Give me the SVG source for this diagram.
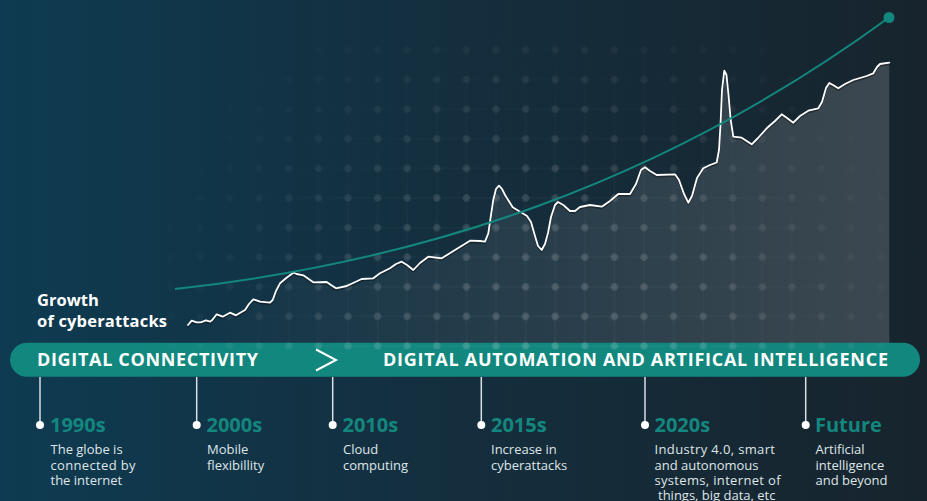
<svg xmlns="http://www.w3.org/2000/svg" width="927" height="501" viewBox="0 0 927 501">
  <defs>
    <linearGradient id="bg" x1="0" y1="0" x2="927" y2="0" gradientUnits="userSpaceOnUse">
      <stop offset="0" stop-color="#0e3b51"/>
      <stop offset="0.45" stop-color="#142f3f"/>
      <stop offset="1" stop-color="#17242d"/>
    </linearGradient>
    <linearGradient id="areaFill" x1="180" y1="0" x2="890" y2="0" gradientUnits="userSpaceOnUse">
      <stop offset="0" stop-color="#ffffff" stop-opacity="0"/>
      <stop offset="0.3" stop-color="#ffffff" stop-opacity="0.05"/>
      <stop offset="1" stop-color="#ffffff" stop-opacity="0.16"/>
    </linearGradient>
    <radialGradient id="gridFade" cx="540" cy="360" r="420" gradientUnits="userSpaceOnUse">
      <stop offset="0" stop-color="#fff" stop-opacity="1"/>
      <stop offset="0.45" stop-color="#fff" stop-opacity="0.7"/>
      <stop offset="0.8" stop-color="#fff" stop-opacity="0.15"/>
      <stop offset="1" stop-color="#fff" stop-opacity="0"/>
    </radialGradient>
    <mask id="gridMask" maskUnits="userSpaceOnUse" x="0" y="0" width="927" height="501">
      <rect x="0" y="0" width="927" height="501" fill="url(#gridFade)"/>
    </mask>
    <pattern id="gridPat" patternUnits="userSpaceOnUse" x="155.6" y="35.2" width="29.6" height="29.6">
      <line x1="0" y1="14.8" x2="29.6" y2="14.8" stroke="#ffffff" stroke-opacity="0.06" stroke-width="1"/>
      <line x1="14.8" y1="0" x2="14.8" y2="29.6" stroke="#ffffff" stroke-opacity="0.06" stroke-width="1"/>
      <circle cx="14.8" cy="14.8" r="3.6" fill="#ffffff" fill-opacity="0.17"/>
    </pattern>
    <style>
      .banner-text { font-family: "Open Sans", "DejaVu Sans", sans-serif; font-weight: 700; font-size: 18px; fill: #ffffff; }
      .title { font-family: "Open Sans", "DejaVu Sans", sans-serif; font-weight: 700; font-size: 16.5px; fill: #ffffff; }
      .year { font-family: "Open Sans", "DejaVu Sans", sans-serif; font-weight: 700; font-size: 20px; fill: #13877e; }
      .desc { font-family: "Open Sans", "DejaVu Sans", sans-serif; font-size: 13px; fill: #dfe5e8; }
      .tick { stroke: #d9dfe2; stroke-width: 1.5; }
      .dot { fill: #ffffff; }
    </style>
  </defs>

  <rect id="background" x="0" y="0" width="927" height="501" fill="url(#bg)"/>

  <g id="chart">
    <polygon fill="url(#areaFill)" points="188,325 191.7,320.7 196.7,322.3 200.7,322.3 206,320.3 210,321.7 212.3,320 216.7,314.3 222.7,316.7 230,312.7 236,315.3 245,310 249,304 253.3,299.3 260,301.7 270,302.7 272.7,300 276,291 280,283.3 286,278.3 293.3,272.7 296.7,274 303.3,275.3 313.3,282.3 326.7,282 331,285 336,288.3 346.7,286 361.7,279 373.3,278.3 380,273.3 390,268.3 396,264 401.7,261.7 407,265 413.3,270 420,263 428.3,256.7 441.7,258.3 455,250 470,240.7 480,241 485,241.7 488.3,233.3 491,215 493.3,200 496,189 499,185.7 502,189 505,195 512.7,207.3 520,211.7 527,216 531,222 535,236 538,246 541.7,250 545,244 548,233 551,217 555,205 558,202 563.3,205 570,211 575,211 580,207 590,205 601.7,206.7 610,201 618.3,194 630,194 636,184 641,170 645,167.3 650,171 656.7,175 675,174.3 679,180 684,194 688.3,202.7 692,196 697,178 703.3,168.3 710,165 716.7,162.5 719,150 720.5,125 722,90 724.3,70.7 726.5,75 728.5,95 730.7,120 733.3,136.7 741.7,137.7 751.7,144.3 758,138 766.7,128.3 775,121 781.7,114.3 787,118 793.3,122.7 800,116 808.3,110.7 818.3,108.3 822,102 826,88 829.3,83 833,85 838.3,88.3 845,84 853.3,80 866.7,76 873.3,73.3 877,67 880,64 889.3,62.7 889.3,346 188,346"/>
  </g>

  <g id="banner">
    <rect x="10" y="342.7" width="910" height="34" rx="17" ry="17" fill="#11877e"/>
    <text class="banner-text" x="37" y="366" textLength="221" lengthAdjust="spacing">DIGITAL CONNECTIVITY</text>
    <polyline points="316,349.5 336,360 316,370.5" fill="none" stroke="#ffffff" stroke-width="2" stroke-linejoin="miter"/>
    <text class="banner-text" x="383" y="366" textLength="505" lengthAdjust="spacing">DIGITAL AUTOMATION AND ARTIFICAL INTELLIGENCE</text>
  </g>

  <rect id="grid" x="126" y="36" width="775" height="313.5" fill="url(#gridPat)" mask="url(#gridMask)"/>

  <g id="growth-line">
    <polyline fill="none" stroke="#000000" stroke-opacity="0.35" stroke-width="2" stroke-linejoin="round" stroke-linecap="round" transform="translate(0,1.5)" points="188,325 191.7,320.7 196.7,322.3 200.7,322.3 206,320.3 210,321.7 212.3,320 216.7,314.3 222.7,316.7 230,312.7 236,315.3 245,310 249,304 253.3,299.3 260,301.7 270,302.7 272.7,300 276,291 280,283.3 286,278.3 293.3,272.7 296.7,274 303.3,275.3 313.3,282.3 326.7,282 331,285 336,288.3 346.7,286 361.7,279 373.3,278.3 380,273.3 390,268.3 396,264 401.7,261.7 407,265 413.3,270 420,263 428.3,256.7 441.7,258.3 455,250 470,240.7 480,241 485,241.7 488.3,233.3 491,215 493.3,200 496,189 499,185.7 502,189 505,195 512.7,207.3 520,211.7 527,216 531,222 535,236 538,246 541.7,250 545,244 548,233 551,217 555,205 558,202 563.3,205 570,211 575,211 580,207 590,205 601.7,206.7 610,201 618.3,194 630,194 636,184 641,170 645,167.3 650,171 656.7,175 675,174.3 679,180 684,194 688.3,202.7 692,196 697,178 703.3,168.3 710,165 716.7,162.5 719,150 720.5,125 722,90 724.3,70.7 726.5,75 728.5,95 730.7,120 733.3,136.7 741.7,137.7 751.7,144.3 758,138 766.7,128.3 775,121 781.7,114.3 787,118 793.3,122.7 800,116 808.3,110.7 818.3,108.3 822,102 826,88 829.3,83 833,85 838.3,88.3 845,84 853.3,80 866.7,76 873.3,73.3 877,67 880,64 889.3,62.7"/>
    <polyline fill="none" stroke="#ffffff" stroke-width="1.8" stroke-linejoin="round" stroke-linecap="round" points="188,325 191.7,320.7 196.7,322.3 200.7,322.3 206,320.3 210,321.7 212.3,320 216.7,314.3 222.7,316.7 230,312.7 236,315.3 245,310 249,304 253.3,299.3 260,301.7 270,302.7 272.7,300 276,291 280,283.3 286,278.3 293.3,272.7 296.7,274 303.3,275.3 313.3,282.3 326.7,282 331,285 336,288.3 346.7,286 361.7,279 373.3,278.3 380,273.3 390,268.3 396,264 401.7,261.7 407,265 413.3,270 420,263 428.3,256.7 441.7,258.3 455,250 470,240.7 480,241 485,241.7 488.3,233.3 491,215 493.3,200 496,189 499,185.7 502,189 505,195 512.7,207.3 520,211.7 527,216 531,222 535,236 538,246 541.7,250 545,244 548,233 551,217 555,205 558,202 563.3,205 570,211 575,211 580,207 590,205 601.7,206.7 610,201 618.3,194 630,194 636,184 641,170 645,167.3 650,171 656.7,175 675,174.3 679,180 684,194 688.3,202.7 692,196 697,178 703.3,168.3 710,165 716.7,162.5 719,150 720.5,125 722,90 724.3,70.7 726.5,75 728.5,95 730.7,120 733.3,136.7 741.7,137.7 751.7,144.3 758,138 766.7,128.3 775,121 781.7,114.3 787,118 793.3,122.7 800,116 808.3,110.7 818.3,108.3 822,102 826,88 829.3,83 833,85 838.3,88.3 845,84 853.3,80 866.7,76 873.3,73.3 877,67 880,64 889.3,62.7"/>
  </g>

  <g id="trend-line">
    <path d="M175,289 C420,262 660,185 889,17.5" fill="none" stroke="#13877e" stroke-width="2"/>
    <circle cx="889" cy="17.5" r="5.5" fill="#13877e"/>
  </g>

  <g id="title">
    <text class="title" x="37" y="306">Growth</text>
    <text class="title" x="37" y="326.5" textLength="130" lengthAdjust="spacing">of cyberattacks</text>
  </g>

  <g id="connectors">
    <line class="tick" x1="40" y1="377" x2="40" y2="425"/>
    <line class="tick" x1="196.7" y1="377" x2="196.7" y2="425"/>
    <line class="tick" x1="332.7" y1="377" x2="332.7" y2="425"/>
    <line class="tick" x1="481.3" y1="377" x2="481.3" y2="425"/>
    <line class="tick" x1="645" y1="377" x2="645" y2="425" stroke="#a9b2b7"/>
    <line class="tick" x1="805.7" y1="377" x2="805.7" y2="425"/>
  </g>

  <g id="item-1990s">
    <circle class="dot" cx="40" cy="425" r="4"/>
    <text class="year" x="50" y="432">1990s</text>
    <text class="desc" x="50.5" y="454">The globe is</text>
    <text class="desc" x="50.5" y="469.5" textLength="85" lengthAdjust="spacing">connected by</text>
    <text class="desc" x="50.5" y="484.5">the internet</text>
  </g>

  <g id="item-2000s">
    <circle class="dot" cx="196.7" cy="425" r="4"/>
    <text class="year" x="206.5" y="432">2000s</text>
    <text class="desc" x="207" y="454">Mobile</text>
    <text class="desc" x="207" y="469.5">flexibillity</text>
  </g>

  <g id="item-2010s">
    <circle class="dot" cx="332.7" cy="425" r="4"/>
    <text class="year" x="342.5" y="432">2010s</text>
    <text class="desc" x="343" y="454">Cloud</text>
    <text class="desc" x="343" y="469.5">computing</text>
  </g>

  <g id="item-2015s">
    <circle class="dot" cx="481.3" cy="425" r="4"/>
    <text class="year" x="491" y="432">2015s</text>
    <text class="desc" x="491" y="454">Increase in</text>
    <text class="desc" x="491" y="469.5">cyberattacks</text>
  </g>

  <g id="item-2020s">
    <circle class="dot" cx="645" cy="425" r="4"/>
    <text class="year" x="654.5" y="432">2020s</text>
    <text class="desc" x="654.5" y="454" textLength="120.5" lengthAdjust="spacing">Industry 4.0, smart</text>
    <text class="desc" x="654.5" y="469.5">and autonomous</text>
    <text class="desc" x="654.5" y="484.5" textLength="126" lengthAdjust="spacing">systems, internet of</text>
    <text class="desc" x="658" y="499.5">things, big data, etc</text>
  </g>

  <g id="item-future">
    <circle class="dot" cx="805.7" cy="425" r="4"/>
    <text class="year" x="815" y="432">Future</text>
    <text class="desc" x="815.5" y="454">Artificial</text>
    <text class="desc" x="815.5" y="469.5">intelligence</text>
    <text class="desc" x="815.5" y="484.5">and beyond</text>
  </g>
</svg>
